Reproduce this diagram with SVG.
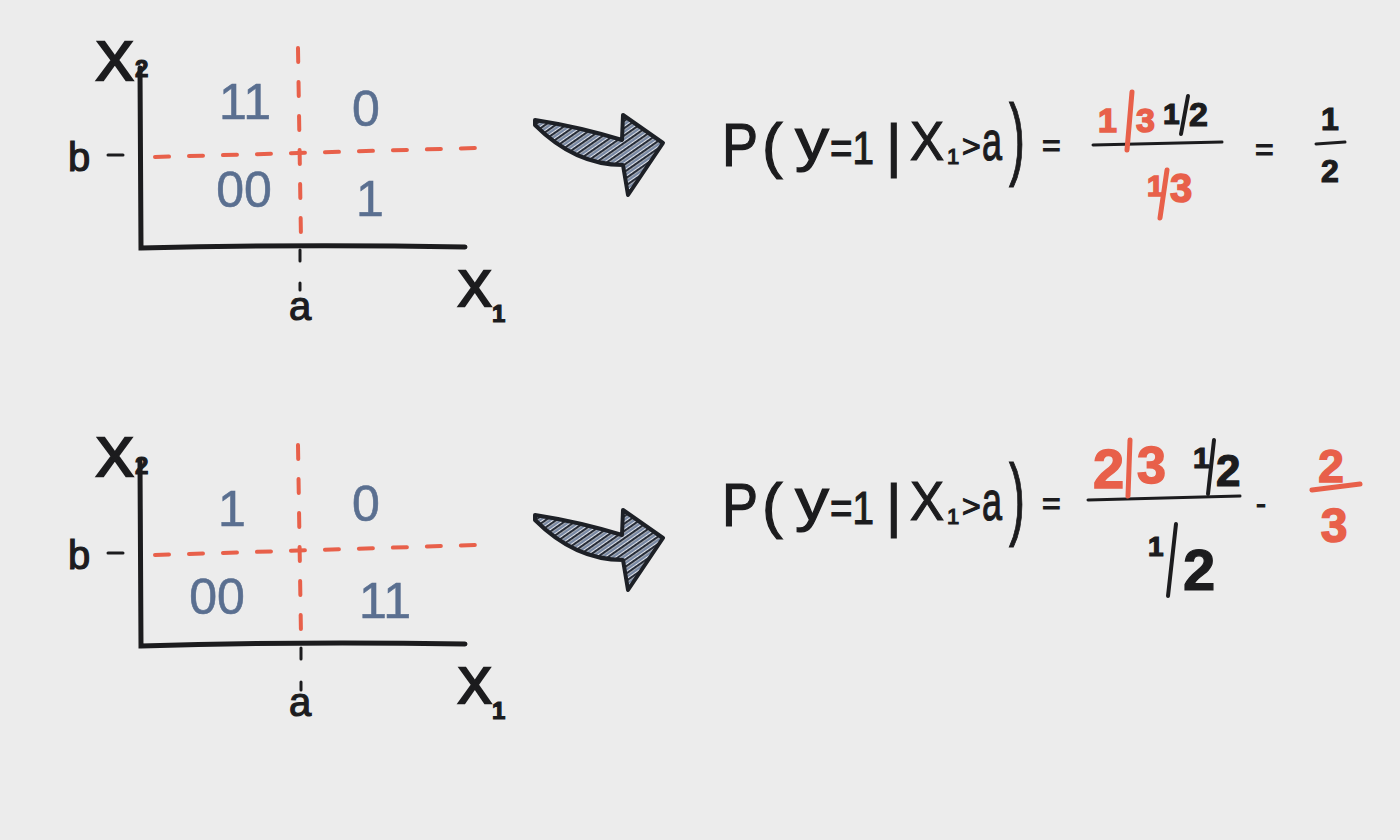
<svg xmlns="http://www.w3.org/2000/svg" width="1400" height="840" viewBox="0 0 1400 840">
<style>
.ink{fill:#1c1c1e;font-family:"Liberation Sans","DejaVu Sans",sans-serif;stroke:#1c1c1e;stroke-width:1.2}
.big{stroke-width:2.6}
.blue{fill:#5a6f90;font-family:"Liberation Sans","DejaVu Sans",sans-serif;font-size:50px;stroke:#5a6f90;stroke-width:0.6}
.red{fill:#e8604a;font-family:"Liberation Sans","DejaVu Sans",sans-serif;stroke:#e8604a;stroke-width:1.5;font-weight:bold}
.axis{stroke:#1c1c1e;stroke-width:5;fill:none;stroke-linecap:round}
.dash{stroke:#e8604a;stroke-width:4;fill:none;stroke-dasharray:14 20;stroke-linecap:round}
.tick{stroke:#1c1c1e;stroke-width:3;fill:none;stroke-linecap:round}
.frac{stroke:#1c1c1e;stroke-width:3;fill:none;stroke-linecap:round}
.bsl{stroke:#1c1c1e;stroke-width:4;fill:none;stroke-linecap:round}
.rsl{stroke:#e8604a;stroke-width:5;fill:none;stroke-linecap:round}
.arr{fill:url(#hatch);stroke:#1d2026;stroke-width:4;stroke-linejoin:round}
</style>
<defs>
<pattern id="hatch" patternUnits="userSpaceOnUse" width="6" height="6" patternTransform="rotate(55)">
<rect width="6" height="6" fill="#dfe2e8"/>
<line x1="1" y1="0" x2="1" y2="6" stroke="#262c38" stroke-width="2.6"/>
<line x1="4" y1="0" x2="4" y2="6" stroke="#5d7193" stroke-width="1.6"/>
</pattern>
</defs>
<rect width="1400" height="840" fill="#ececec"/>

<g id="plot-top">
<path class="dash" d="M298,48 L301,240"/>
<path class="dash" d="M155,157 L475,148"/>
<path class="axis" d="M140,68 L141,248 Q300,244 465,247"/>
<path class="tick" d="M300,250 L300,261 M300,283 L300,290 M108,155 L123,155"/>
<text class="ink big" x="96" y="80" font-size="56">X</text>
<text class="ink" x="135" y="77" font-size="24" font-weight="bold">2</text>
<text class="ink" x="68" y="171" font-size="40">b</text>
<text class="ink" x="300" y="320" font-size="40" text-anchor="middle">a</text>
<text class="ink big" x="458" y="306" font-size="50">X</text>
<text class="ink" x="492" y="322" font-size="24" font-weight="bold">1</text>
<text class="blue" x="245" y="119" text-anchor="middle">11</text>
<text class="blue" x="366" y="126" text-anchor="middle">0</text>
<text class="blue" x="244" y="207" text-anchor="middle">00</text>
<text class="blue" x="370" y="216" text-anchor="middle">1</text>
</g>

<g id="plot-bottom">
<path class="dash" d="M298,445 L301,636"/>
<path class="dash" d="M155,555 L475,545"/>
<path class="axis" d="M140,462 L141,646 Q300,641 465,644"/>
<path class="tick" d="M301,648 L301,659 M301,682 L301,690 M108,553 L123,553"/>
<text class="ink big" x="96" y="476" font-size="56">X</text>
<text class="ink" x="135" y="474" font-size="24" font-weight="bold">2</text>
<text class="ink" x="68" y="569" font-size="40">b</text>
<text class="ink" x="300" y="716" font-size="40" text-anchor="middle">a</text>
<text class="ink big" x="458" y="703" font-size="50">X</text>
<text class="ink" x="492" y="719" font-size="24" font-weight="bold">1</text>
<text class="blue" x="232" y="526" text-anchor="middle">1</text>
<text class="blue" x="366" y="521" text-anchor="middle">0</text>
<text class="blue" x="217" y="614" text-anchor="middle">00</text>
<text class="blue" x="385" y="618" text-anchor="middle">11</text>
</g>

<g id="connectors">
<path id="arrow-top" class="arr" d="M535,120 Q580,127 622,140 L623,115 L663,143 L628,195 L623,165 Q575,165 535,125 Z"/>
<path id="arrow-bottom" class="arr" d="M535,515 Q580,522 622,535 L623,510 L663,538 L628,590 L623,560 Q575,560 535,520 Z"/>
</g>

<g id="formula-top">
<text class="ink" x="722" y="166" font-size="62" textLength="36" lengthAdjust="spacingAndGlyphs">P</text>
<text class="ink" x="762" y="166" font-size="62">(</text>
<text class="ink" x="795" y="160" font-size="60" textLength="34" lengthAdjust="spacingAndGlyphs">y</text>
<text class="ink" x="830" y="164" font-size="46" textLength="44" lengthAdjust="spacingAndGlyphs">=1</text>
<text class="ink" x="886" y="166" font-size="60">|</text>
<text class="ink" x="910" y="160" font-size="56" textLength="34" lengthAdjust="spacingAndGlyphs">X</text>
<text class="ink" x="947" y="164" font-size="22">1</text>
<text class="ink" x="962" y="157" font-size="32">&gt;</text>
<text class="ink" x="982" y="160" font-size="56" textLength="20" lengthAdjust="spacingAndGlyphs">a</text>
<text class="ink" x="1009" y="168" font-size="90" textLength="16" lengthAdjust="spacingAndGlyphs">)</text>
<text class="ink" x="1042" y="156" font-size="32">=</text>
<path class="frac" d="M1093,145 L1222,142"/>
<text class="red" x="1098" y="132" font-size="34">1</text>
<path class="rsl" d="M1132,92 L1127,150"/>
<text class="red" x="1136" y="132" font-size="34">3</text>
<text class="ink" x="1163" y="124" font-size="30" font-weight="bold">1</text>
<path class="bsl" d="M1188,96 L1181,134"/>
<text class="ink" x="1189" y="126" font-size="34" font-weight="bold">2</text>
<text class="red" x="1147" y="196" font-size="30">1</text>
<path class="rsl" d="M1167,170 L1160,218"/>
<text class="red" x="1170" y="202" font-size="40">3</text>
<text class="ink" x="1255" y="160" font-size="32">=</text>
<text class="ink" x="1330" y="130" font-size="32" font-weight="bold" text-anchor="middle">1</text>
<path class="frac" d="M1316,144 L1345,142"/>
<text class="ink" x="1330" y="182" font-size="32" font-weight="bold" text-anchor="middle">2</text>
</g>

<g id="formula-bottom">
<text class="ink" x="722" y="526" font-size="62" textLength="36" lengthAdjust="spacingAndGlyphs">P</text>
<text class="ink" x="762" y="526" font-size="62">(</text>
<text class="ink" x="795" y="520" font-size="60" textLength="34" lengthAdjust="spacingAndGlyphs">y</text>
<text class="ink" x="830" y="524" font-size="46" textLength="44" lengthAdjust="spacingAndGlyphs">=1</text>
<text class="ink" x="886" y="526" font-size="60">|</text>
<text class="ink" x="910" y="520" font-size="56" textLength="34" lengthAdjust="spacingAndGlyphs">X</text>
<text class="ink" x="947" y="524" font-size="22">1</text>
<text class="ink" x="962" y="517" font-size="32">&gt;</text>
<text class="ink" x="982" y="520" font-size="56" textLength="20" lengthAdjust="spacingAndGlyphs">a</text>
<text class="ink" x="1009" y="528" font-size="90" textLength="16" lengthAdjust="spacingAndGlyphs">)</text>
<text class="ink" x="1042" y="514" font-size="32">=</text>
<path class="frac" d="M1088,500 L1240,496"/>
<text class="red" x="1093" y="488" font-size="56" font-weight="normal" stroke-width="3">2</text>
<path class="rsl" d="M1130,440 L1128,496"/>
<text class="red" x="1137" y="483" font-size="52" font-weight="normal" stroke-width="3">3</text>
<text class="ink" x="1193" y="468" font-size="30" font-weight="bold">1</text>
<path class="bsl" d="M1214,440 L1208,494"/>
<text class="ink" x="1216" y="486" font-size="44" font-weight="bold">2</text>
<text class="ink" x="1148" y="556" font-size="28" font-weight="bold">1</text>
<path class="bsl" d="M1176,524 L1168,596" stroke-width="6"/>
<text class="ink" x="1183" y="590" font-size="58" font-weight="bold">2</text>
<text class="ink" x="1256" y="514" font-size="30">-</text>
<text class="red" x="1331" y="482" font-size="46" text-anchor="middle" font-weight="normal" stroke-width="2.5">2</text>
<path class="rsl" d="M1312,490 L1360,484"/>
<text class="red" x="1334" y="542" font-size="48" text-anchor="middle" font-weight="normal" stroke-width="2.5">3</text>
</g>
</svg>
